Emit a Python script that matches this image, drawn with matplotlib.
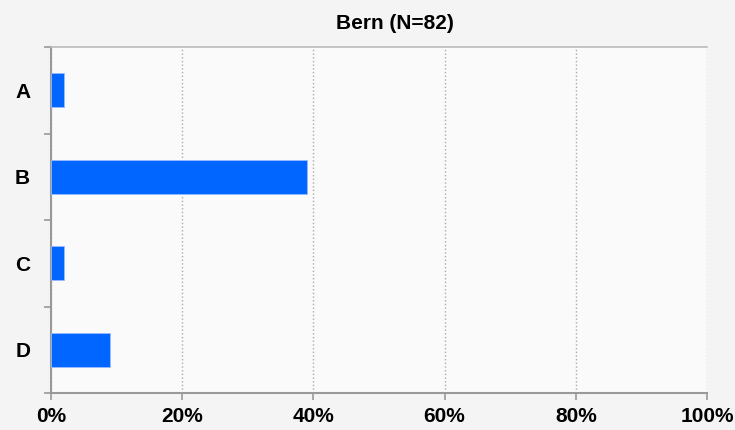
import matplotlib
matplotlib.use("Agg")
import matplotlib.pyplot as plt
from matplotlib.ticker import FixedLocator, FuncFormatter

categories = ["A", "B", "C", "D"]
values = [2, 39, 2, 9]
xticks = [0, 20, 40, 60, 80, 100]
title = "Bern (N=82)"

plt.rcParams['font.family'] = ['Liberation Sans', 'DejaVu Sans']

fig = plt.figure(figsize=(7.35, 4.30), dpi=100, facecolor='#f4f4f4')
ax = fig.add_axes([51/735, 1-393/430, (707-51)/735, (393-47)/430])
ax.set_facecolor('#fafafa')

y = list(range(len(categories)))
ax.barh(y, values, height=0.39, color='#0066ff', edgecolor='#99bbff', linewidth=0.6, zorder=3)

ax.set_xlim(0, 100)
ax.set_ylim(len(categories)-0.5, -0.5)
ax.set_xticks(xticks)
ax.xaxis.set_major_formatter(FuncFormatter(lambda v, p: f"{int(v)}%"))
ax.set_yticks(y)
ax.set_yticklabels(categories)
ax.yaxis.set_minor_locator(FixedLocator([i - 0.5 for i in range(len(categories)+1)]))
ax.tick_params(axis='y', which='major', length=0, pad=15)
ax.tick_params(axis='y', which='minor', length=5, color='#999999', width=1.2)
ax.tick_params(axis='x', which='major', length=5, color='#999999', width=1.2, pad=5)
for lab in ax.get_xticklabels() + ax.get_yticklabels():
    lab.set_fontweight('bold')
    lab.set_fontsize(15)

ax.grid(axis='x', linestyle=':', color='#aaaaaa', linewidth=1, zorder=0)
ax.spines['left'].set_color('#999999')
ax.spines['left'].set_linewidth(1.5)
ax.spines['bottom'].set_color('#999999')
ax.spines['bottom'].set_linewidth(1.5)
ax.spines['top'].set_color('#bbbbbb')
ax.spines['top'].set_linewidth(1.2)
ax.spines['right'].set_visible(False)

ax.set_title(title, fontweight='bold', fontsize=15, pad=13, x=(395-51)/656)

fig.savefig("out.png", dpi=100, facecolor=fig.get_facecolor())
